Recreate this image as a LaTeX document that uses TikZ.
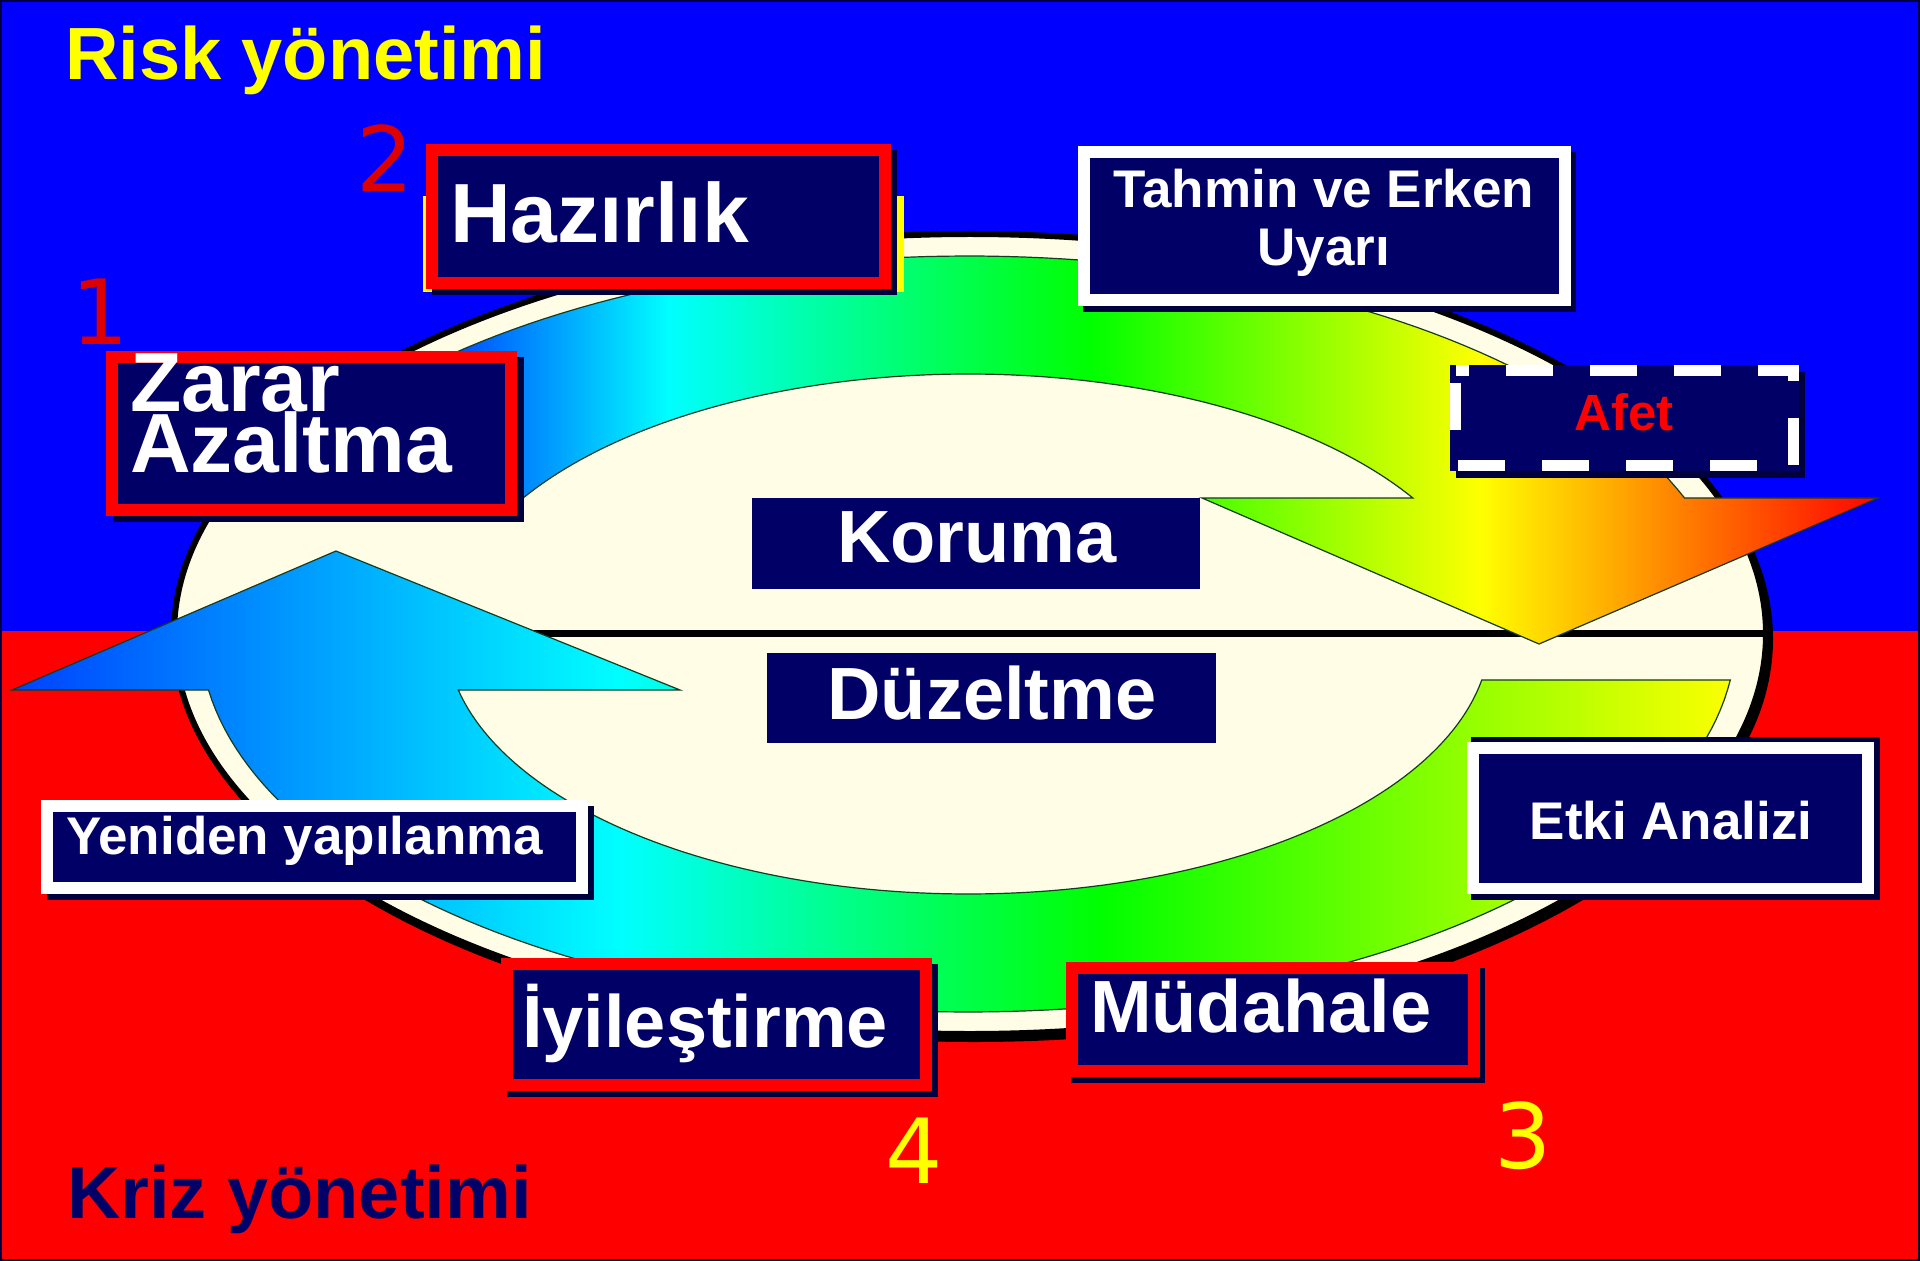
\documentclass[tikz,border=0pt]{standalone}
\usepackage{fontspec}
\setmainfont{Liberation Sans}
\newfontfamily\numfont{DejaVu Sans}
\usetikzlibrary{calc}
\definecolor{navy}{RGB}{0,0,102}
\definecolor{shad}{RGB}{0,0,60}
\definecolor{cream}{RGB}{255,253,230}
\definecolor{bgblue}{RGB}{0,0,255}
\definecolor{bgred}{RGB}{255,0,0}
\definecolor{numred}{RGB}{220,0,0}
\definecolor{cblue}{RGB}{0,64,255}
\definecolor{ccyan}{RGB}{0,255,255}
\definecolor{cgreen}{RGB}{0,255,0}
\definecolor{cyellow}{RGB}{255,255,0}
\definecolor{cred}{RGB}{255,0,0}
\definecolor{bandedge}{RGB}{20,60,30}
\newcommand\shbox[7]{%
  \fill[shad] ({#2+#6},{#3+#7}) rectangle ({#4+#6},{#5+#7});
  \fill[#1] (#2,#3) rectangle (#4,#5);
  \fill[navy] ({#2+12},{#3+12}) rectangle ({#4-12},{#5-12});
}
\def\topbandpath{plot[domain=205:338.9,samples=90] ({968+768*cos(\x)},{634+378*sin(\x)}) -- (1878,498) -- (1539,644) -- (1202,498) -- plot[domain=211.54:328.46,samples=90] ({968+522*cos(540-\x)},{634+260*sin(540-\x)}) -- cycle}
\def\botbandpath{plot[domain=10.19:167.56,samples=110] ({968+522*cos(\x)},{634+260*sin(\x)}) -- (680,690) -- (336,551) -- (12,690) -- plot[domain=6.99:171.48,samples=110] ({968+768*cos(178.47-\x)},{634+378*sin(178.47-\x)}) -- cycle}
\tikzset{
  lbl/.style={inner sep=0pt, outer sep=0pt, text=white},
  big/.style={font=\bfseries\fontsize{42}{42}\selectfont},
  mid/.style={font=\bfseries\fontsize{37}{37}\selectfont},
  small/.style={font=\bfseries\fontsize{26.5}{26.5}\selectfont},
  num/.style={inner sep=0pt, outer sep=0pt, anchor=base, font=\numfont\fontsize{45}{45}\selectfont}
}
\begin{document}
\begin{tikzpicture}[x=0.5pt,y=-0.5pt]
\useasboundingbox (0,0) rectangle (1920,1261);
% background
\fill[bgblue] (0,0) rectangle (1920,631);
\fill[bgred] (0,631) rectangle (1920,1261);
% ellipse
\fill[black] (974,639) ellipse[x radius=799,y radius=403];
\filldraw[fill=cream, draw=black, line width=3pt] (970,634) ellipse[x radius=796,y radius=400];
\draw[black, line width=3.5pt] (174,633.5) -- (1766,633.5);
% top band
\begin{scope}
  \clip \topbandpath;
  \fill[cblue] (200,200) rectangle (441,700);
  \shade[left color=cblue, right color=ccyan] (440,200) rectangle (669,700);
  \shade[left color=ccyan, right color=cgreen] (668,200) rectangle (1091,700);
  \shade[left color=cgreen, right color=cyellow] (1090,200) rectangle (1481,700);
  \shade[left color=cyellow, right color=cred] (1480,200) rectangle (1882,700);
\end{scope}
\draw[bandedge, line width=0.6pt, line join=miter] \topbandpath;
% bottom band
\begin{scope}
  \clip \botbandpath;
  \shade[left color=cblue, right color=ccyan] (8,540) rectangle (621,1020);
  \shade[left color=ccyan, right color=cgreen] (620,540) rectangle (1101,1020);
  \shade[left color=cgreen, right color=cyellow] (1100,540) rectangle (1740,1020);
\end{scope}
\draw[bandedge, line width=0.6pt, line join=miter] \botbandpath;
% boxes
\fill[cyellow] (423,196) rectangle (904,292);
\shbox{bgred}{426}{144}{891}{289}{6}{6}
\shbox{bgred}{106}{351}{517}{516}{7}{6}
\shbox{white}{1078}{146}{1571}{306}{5}{6}
\fill[shad] (1456,372) rectangle (1805,478);
\fill[navy] (1450,365) rectangle (1799,471);
\draw[white, line width=5.5pt, dash pattern=on 23.5pt off 18.5pt, dash phase=17pt] (1455.5,370.5) -- (1793.5,370.5) -- (1793.5,465.5) -- (1455.5,465.5) -- cycle;
\fill[navy] (752,498) rectangle (1200,589);
\fill[navy] (767,653) rectangle (1216,743);
\shbox{white}{41}{800}{588}{894}{6}{6}
\fill[shad] (1471,737) rectangle (1880,900);
\fill[white] (1467,742) rectangle (1874,894);
\fill[navy] (1479,754) rectangle (1862,883);
\shbox{bgred}{501}{958}{932}{1091}{6}{6}
\shbox{bgred}{1066}{962}{1480}{1077}{5}{6}
% texts
\node[lbl, big, anchor=base west] (hazirlik) at (450,243) {Hazırlık};
\node[lbl, big, anchor=base west] (zarar) at (130,412) {Zarar};
\node[lbl, big, anchor=base west] (azaltma) at (130,473) {Azaltma};
\node[lbl, small, anchor=base] (tahmin) at (1324,208) {Tahmin ve Erken};
\node[lbl, small, anchor=base] (uyari) at (1324,266) {Uyarı};
\node[lbl, anchor=base, text=cred, font=\bfseries\fontsize{25.5}{25.5}\selectfont] (afet) at (1624,431) {Afet};
\node[lbl, mid, anchor=base] (koruma) at (977,562) {Koruma};
\node[lbl, mid, anchor=base] (duzeltme) at (992,719) {Düzeltme};
\node[lbl, small, anchor=base west] (yeniden) at (66,854) {Yeniden yapılanma};
\node[lbl, small, anchor=base] (etki) at (1671,839) {Etki Analizi};
\node[lbl, mid, anchor=base west] (iyi) at (522,1047) {İyileştirme};
\node[lbl, mid, anchor=base west] (mudahale) at (1090,1032) {Müdahale};
\node[lbl, mid, anchor=base west, text=cyellow] (risk) at (65,80) {Risk yönetimi};
\node[lbl, mid, anchor=base west, text=navy] (kriz) at (67,1218) {Kriz yönetimi};
% numbers
\node[num, text=numred] (n1) at (100,345) {1};
\node[num, text=numred] (n2) at (385.5,192) {2};
\node[num, text=cyellow] (n3) at (1523.5,1168) {3};
\node[num, text=cyellow] (n4) at (914,1183) {4};
% border
\draw[shad, line width=1pt] (1,1) rectangle (1919,1260);
\end{tikzpicture}
\end{document}
